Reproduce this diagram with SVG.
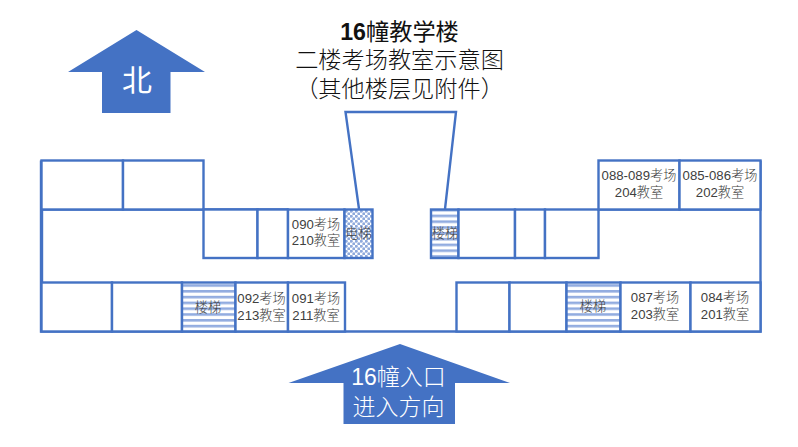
<svg xmlns="http://www.w3.org/2000/svg" width="798" height="447" viewBox="0 0 798 447">
<style>
text{font-family:"Liberation Sans","Noto Sans CJK SC",sans-serif;text-anchor:middle;font-weight:300}
.r{fill:#fff;stroke:#4472c4;stroke-width:2.400}
.l{fill:none;stroke:#4472c4;stroke-width:2.400}
.a{fill:#4472c4}
.t{font-size:13.200px;fill:#404040}
.h{font-size:23.200px;fill:#111}
.w{font-size:23px;fill:#fff}
</style>
<defs>
<pattern id="hs" width="8" height="5.800" patternUnits="userSpaceOnUse"><rect width="8" height="5.800" fill="#fff"/><rect width="8" height="2.600" fill="#92ace0"/></pattern>
<pattern id="dots" width="5" height="5" patternUnits="userSpaceOnUse"><rect width="5" height="5" fill="#fff"/><circle cx="1.250" cy="1.250" r="1.500" fill="#8faadc"/><circle cx="3.750" cy="3.750" r="1.500" fill="#8faadc"/></pattern>
</defs>
<g id="title">
<text class="h" x="399.500" y="40"><tspan font-weight="700">16</tspan><tspan font-weight="400">幢教学楼</tspan></text>
<text class="h" x="399.500" y="68">二楼考场教室示意图</text>
<text class="h" x="399.500" y="97">（其他楼层见附件）</text>
</g>
<g id="north"><path class="a" d="M136.500 30 205 72H170.500V113H102V72H68Z"/><text class="w" x="137" y="91" style="font-size:30px;font-weight:400">北</text></g>
<g id="entrance"><path class="a" d="M400 344 510 383H455V424H343.500V383H288.500Z"/>
<text class="w" x="398.500" y="385">16幢入口</text><text class="w" x="398.500" y="414.500">进入方向</text></g>
<g id="connectors">
<path class="l" d="M359 209 345.500 112H456L445 209"/>
<path class="l" d="M41 209.500H203.500M41 160.500V331.500M41 282.500V331.500H760.500V160.500M203.500 209.500H288M345 331.500H456.500M598.500 209.500H760.500"/>
<path class="l" d="M42 160.500V331.500"/>
</g>
<g id="room-nw1"><rect class="r" x="41.500" y="160.500" width="81.500" height="49"/></g>
<g id="room-nw2"><rect class="r" x="123" y="160.500" width="80.500" height="49"/></g>
<g id="room-a"><rect class="r" x="203.500" y="209.500" width="54" height="48.500"/></g>
<g id="room-b"><rect class="r" x="257.500" y="209.500" width="30.500" height="48.500"/></g>
<g id="room-090"><rect class="r" x="288" y="209.500" width="56.500" height="48.500"/><text class="t" x="316" y="229">090考场</text><text class="t" x="316" y="245">210教室</text></g>
<g id="elevator"><rect x="344.500" y="209.500" width="28" height="48.500" fill="url(#dots)" stroke="#4472c4" stroke-width="2.400"/><text class="t" x="358.500" y="238">电梯</text></g>
<g id="stairs-c"><rect x="431" y="209.500" width="27.500" height="48.500" fill="url(#hs)" stroke="#4472c4" stroke-width="2.400"/><text class="t" x="445" y="238">楼梯</text></g>
<g id="room-c"><rect class="r" x="458.500" y="209.500" width="56.500" height="48.500"/></g>
<g id="room-d"><rect class="r" x="515" y="209.500" width="30" height="48.500"/></g>
<g id="room-e"><rect class="r" x="545" y="209.500" width="53.500" height="48.500"/></g>
<g id="room-088"><rect class="r" x="598.500" y="160.500" width="81" height="49"/><text class="t" x="639" y="180">088-089考场</text><text class="t" x="639" y="197">204教室</text></g>
<g id="room-085"><rect class="r" x="679.500" y="160.500" width="81" height="49"/><text class="t" x="720" y="180">085-086考场</text><text class="t" x="720" y="197">202教室</text></g>
<g id="room-f"><rect class="r" x="41.500" y="282.500" width="70.500" height="49"/></g>
<g id="room-g"><rect class="r" x="112" y="282.500" width="70" height="49"/></g>
<g id="stairs-w"><rect x="182" y="282.500" width="53.500" height="49" fill="url(#hs)" stroke="#4472c4" stroke-width="2.400"/><text class="t" x="208" y="312">楼梯</text></g>
<g id="room-092"><rect class="r" x="235.500" y="282.500" width="52.500" height="49"/><text class="t" x="261.500" y="303">092考场</text><text class="t" x="261.500" y="319.500">213教室</text></g>
<g id="room-091"><rect class="r" x="288" y="282.500" width="57" height="49"/><text class="t" x="316" y="303">091考场</text><text class="t" x="316" y="319.500">211教室</text></g>
<g id="room-h"><rect class="r" x="456.500" y="282.500" width="53" height="49"/></g>
<g id="room-i"><rect class="r" x="509.500" y="282.500" width="57" height="49"/></g>
<g id="stairs-e"><rect x="566.500" y="282.500" width="54" height="49" fill="url(#hs)" stroke="#4472c4" stroke-width="2.400"/><text class="t" x="593" y="311">楼梯</text></g>
<g id="room-087"><rect class="r" x="620.500" y="282.500" width="70" height="49"/><text class="t" x="655" y="302">087考场</text><text class="t" x="655" y="319">203教室</text></g>
<g id="room-084"><rect class="r" x="690.500" y="282.500" width="70" height="49"/><text class="t" x="725" y="302">084考场</text><text class="t" x="725" y="319">201教室</text></g>
</svg>
